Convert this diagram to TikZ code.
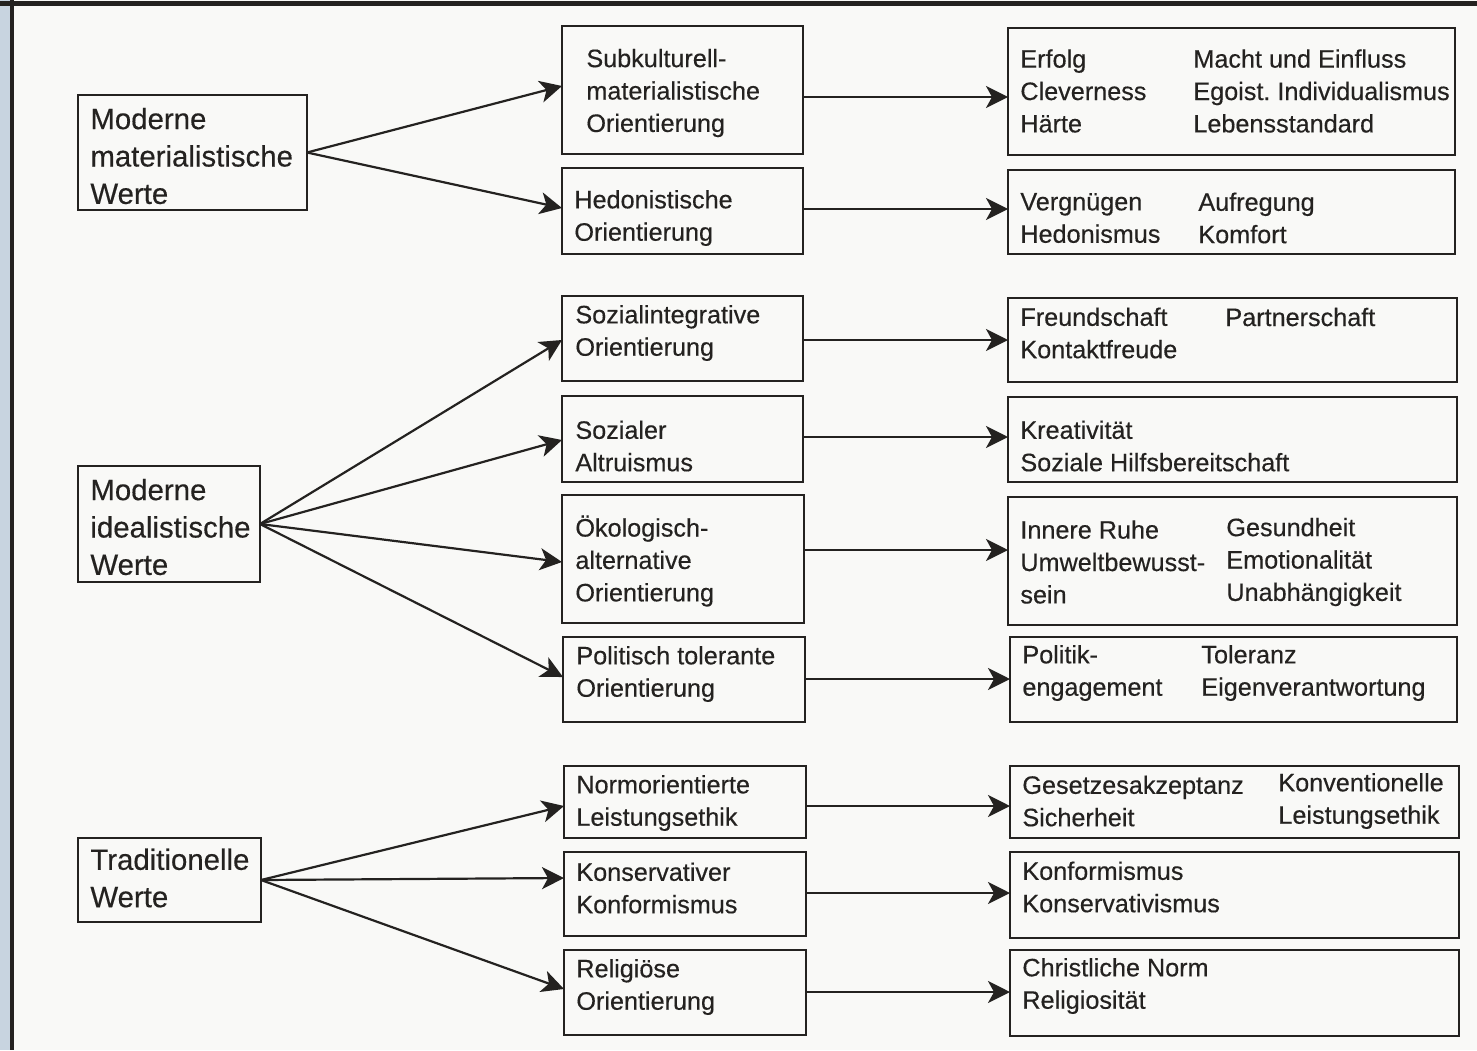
\documentclass[tikz,border=0pt]{standalone}
\usepackage{fontspec}
\setmainfont{Liberation Sans}
\newfontfamily\dfont{Liberation Sans}[FakeBold=0.35]
\usetikzlibrary{arrows.meta}
\definecolor{ink}{RGB}{36,34,32}
\definecolor{paper}{RGB}{249,249,247}
\definecolor{strip}{RGB}{200,212,224}
\tikzset{
  bx/.style={draw=ink, line width=1.1pt, inner sep=0pt, outer sep=0pt},
  big/.style={font=\dfont\fontsize{14.7}{18.7}\selectfont, text=ink, align=left, inner sep=0pt, anchor=west},
  sml/.style={font=\dfont\fontsize{12.6}{16.2}\selectfont, text=ink, align=left, inner sep=0pt, anchor=west},
  arr/.style={draw=ink, line width=1.1pt, -{Stealth[length=11pt,width=11pt,inset=3pt]}},
  frame/.style={draw=ink}
}
\newcommand\mkbox[5]{\node[bx, minimum width={(#4-#2)*0.5pt}, minimum height={(#5-#3)*0.5pt}] (#1) at ({(#2+#4)/2},{(#3+#5)/2}) {};}
\begin{document}
\begin{tikzpicture}[x=0.5pt,y=-0.5pt]
\useasboundingbox (0,0) rectangle (1477,1050);
\fill[paper] (0,0) rectangle (1477,1050);
\fill[strip] (0,0) rectangle (11,1050);
\draw[frame, line width=2pt] (12,0) -- (12,1050);
\draw[frame, line width=2.5pt] (0,3) -- (1477,3);

% left boxes
\mkbox{l1}{78}{95}{307}{210}
\mkbox{l2}{78}{466}{260}{582}
\mkbox{l3}{78}{838}{261}{922}
\node[big] (l1t) at (90,156) {Moderne\\materialistische\\Werte};
\node[big] (l2t) at (90,527) {Moderne\\idealistische\\Werte};
\node[big] (l3t) at (90,878) {Traditionelle\\Werte};

% middle boxes
\mkbox{m1}{562}{26}{803}{154}
\mkbox{m2}{562}{168}{803}{254}
\mkbox{m3}{562}{296}{803}{381}
\mkbox{m4}{562}{396}{803}{482}
\mkbox{m5}{562}{495}{804}{623}
\mkbox{m6}{563}{637}{805}{722}
\mkbox{m7}{564}{766}{806}{838}
\mkbox{m8}{564}{852}{806}{936}
\mkbox{m9}{564}{950}{806}{1035}
\node[sml] (m1t) at (586,93) {Subkulturell-\\materialistische\\Orientierung};
\node[sml] (m2t) at (574,218) {Hedonistische\\Orientierung};
\node[sml] (m3t) at (575,333) {Sozialintegrative\\Orientierung};
\node[sml] (m4t) at (575,446) {Sozialer\\Altruismus};
\node[sml] (m5t) at (575,561) {Ökologisch-\\alternative\\Orientierung};
\node[sml] (m6t) at (576,674) {Politisch tolerante\\Orientierung};
\node[sml] (m7t) at (576,803) {Normorientierte\\Leistungsethik};
\node[sml] (m8t) at (576,888) {Konservativer\\Konformismus};
\node[sml] (m9t) at (576,987) {Religiöse\\Orientierung};

% right boxes
\mkbox{r1}{1008}{28}{1455}{155}
\mkbox{r2}{1008}{170}{1455}{254}
\mkbox{r3}{1008}{298}{1457}{382}
\mkbox{r4}{1008}{397}{1457}{482}
\mkbox{r5}{1008}{497}{1457}{625}
\mkbox{r6}{1010}{637}{1457}{722}
\mkbox{r7}{1010}{766}{1459}{838}
\mkbox{r8}{1010}{852}{1459}{938}
\mkbox{r9}{1010}{950}{1459}{1036}
\node[sml] (r1a) at (1020,91) {Erfolg\\Cleverness\\Härte};
\node[sml] (r1b) at (1193,91) {Macht und Einfluss\\Egoist.\ Individualismus\\Lebensstandard};
\node[sml] (r2a) at (1020,218) {Vergnügen\\Hedonismus};
\node[sml] (r2b) at (1198,218) {Aufregung\\Komfort};
\node[sml] (r3a) at (1020,333) {Freundschaft\\Kontaktfreude};
\node[sml] (r3b) at (1225,317) {Partnerschaft};
\node[sml] (r4a) at (1020,446) {Kreativität\\Soziale Hilfsbereitschaft};
\node[sml] (r5a) at (1020,562) {Innere Ruhe\\Umweltbewusst-\\sein};
\node[sml] (r5b) at (1226,562) {Gesundheit\\Emotionalität\\Unabhängigkeit};
\node[sml] (r6a) at (1022,673) {Politik-\\engagement};
\node[sml] (r6b) at (1201,673) {Toleranz\\Eigenverantwortung};
\node[sml] (r7a) at (1022,801) {Gesetzesakzeptanz\\Sicherheit};
\node[sml] (r7b) at (1278,801) {Konventionelle\\Leistungsethik};
\node[sml] (r8a) at (1022,887) {Konformismus\\Konservativismus};
\node[sml] (r9a) at (1022,986) {Christliche Norm\\Religiosität};

% arrows left -> middle
\draw[arr] (l1.east) -- (m1.west |- 0,86);
\draw[arr] (l1.east) -- (m2.west |- 0,208);
\draw[arr] (l2.east) -- (m3.west |- 0,340);
\draw[arr] (l2.east) -- (m4.west |- 0,440);
\draw[arr] (l2.east) -- (m5.west |- 0,562);
\draw[arr] (l2.east) -- (m6.west |- 0,677);
\draw[arr] (l3.east) -- (m7.west |- 0,806);
\draw[arr] (l3.east) -- (m8.west |- 0,878);
\draw[arr] (l3.east) -- (m9.west |- 0,989);

% arrows middle -> right
\draw[arr] (m1.east |- 0,97) -- (r1.west |- 0,97);
\draw[arr] (m2.east |- 0,209) -- (r2.west |- 0,209);
\draw[arr] (m3.east |- 0,340) -- (r3.west |- 0,340);
\draw[arr] (m4.east |- 0,437) -- (r4.west |- 0,437);
\draw[arr] (m5.east |- 0,550) -- (r5.west |- 0,550);
\draw[arr] (m6.east |- 0,679) -- (r6.west |- 0,679);
\draw[arr] (m7.east |- 0,806) -- (r7.west |- 0,806);
\draw[arr] (m8.east |- 0,893) -- (r8.west |- 0,893);
\draw[arr] (m9.east |- 0,992) -- (r9.west |- 0,992);
\end{tikzpicture}
\end{document}
